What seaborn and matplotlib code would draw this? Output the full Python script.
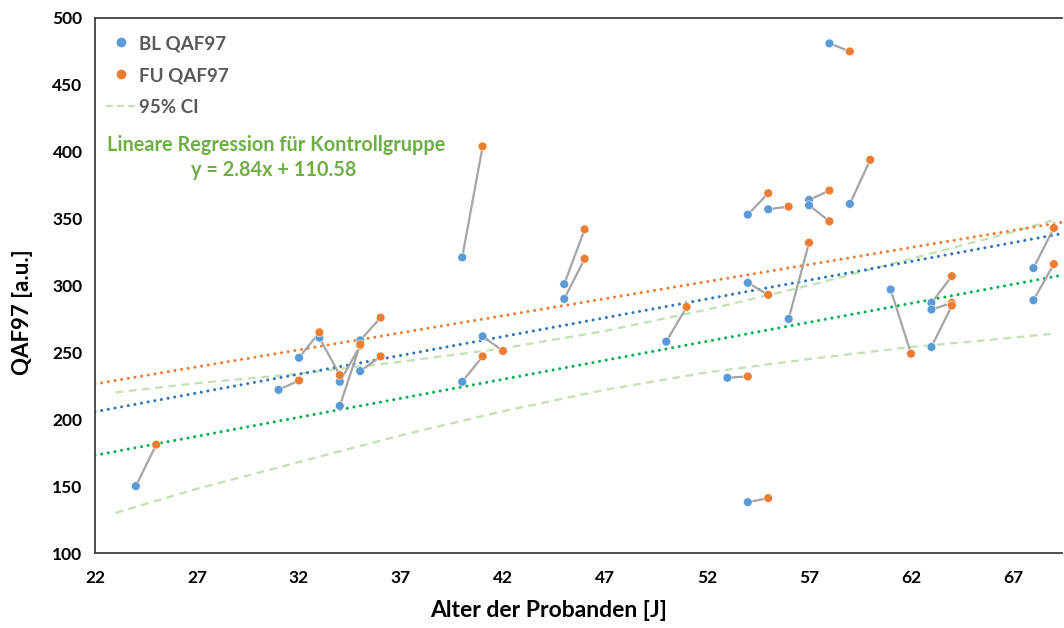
import numpy as np
import pandas as pd
import matplotlib
matplotlib.use('Agg')
import matplotlib.pyplot as plt
import seaborn as sns
from matplotlib.lines import Line2D
from matplotlib.font_manager import FontProperties

# Werte
bl_age = [24, 31, 32, 33, 34, 34, 35, 35, 40, 40, 41, 45, 45, 50, 53,
          54, 54, 54, 55, 56, 57, 57, 58, 59, 61, 63, 63, 63, 68, 68]
bl_val = [150, 222, 246, 261, 228, 210, 259, 236, 321, 228, 262, 301, 290, 258, 231,
          138, 353, 302, 357, 275, 364, 360, 481, 361, 297, 287, 282, 254, 313, 289]
fu_age = [25, 32, 33, 34, 35, 35, 36, 36, 41, 41, 42, 46, 46, 51, 54,
          55, 55, 55, 56, 57, 58, 58, 59, 60, 62, 64, 64, 64, 69, 69]
fu_val = [181, 229, 265, 233, 255, 256, 276, 247, 404, 247, 251, 342, 320, 284, 232,
          141, 369, 293, 359, 332, 371, 348, 475, 394, 249, 307, 287, 285, 343, 316]

# Trendlinien (Steigung, Achsenabschnitt)
trend_names = ['BL', 'FU', 'Kontrolle']
trend_slope = [2.81, 2.55, 2.84]
trend_icpt = [143.8, 170.3, 110.58]

# 95% Konfidenzband
ci_x = [23, 27, 32, 37, 42, 47, 52, 57, 62, 67, 69]
ci_upper = [220, 227, 234, 243, 253, 266, 282, 300, 320, 340, 349]
ci_lower = [130, 148, 168, 188, 206, 222, 235, 245, 254, 261, 264]

xticks = list(range(22, 68, 5))
yticks = list(range(100, 501, 50))

c_blue = '#5B9BD5'
c_orange = '#ED7D31'
c_trend = {'BL': '#2E75B6', 'FU': '#ED7D31', 'Kontrolle': '#00B050'}
c_ci = '#C5E0B4'
c_pair = '#A5A5A5'
c_text_gray = '#595959'
c_green_txt = '#70AD47'

sns.set_theme(style='white')
plt.rcParams['font.family'] = ['Lato', 'DejaVu Sans']
plt.rcParams['font.weight'] = 'bold'

fig = plt.figure(figsize=(10.64, 6.28), dpi=100)
ax = fig.add_axes([95 / 1064, (628 - 553) / 628, 967 / 1064, 535 / 628])
xmin, xmax = 22, 69.4

# Konfidenzband
ci_df = pd.DataFrame({'x': ci_x, 'upper': ci_upper, 'lower': ci_lower})
sns.lineplot(data=ci_df, x='x', y='upper', ax=ax, color=c_ci, lw=1.6,
             linestyle=(0, (3.5, 2.5)), zorder=1)
sns.lineplot(data=ci_df, x='x', y='lower', ax=ax, color=c_ci, lw=1.6,
             linestyle=(0, (3.5, 2.5)), zorder=1)

# Trendlinien
xs = np.array([xmin, xmax])
for name, m, b in zip(trend_names, trend_slope, trend_icpt):
    ax.plot(xs, m * xs + b, color=c_trend[name], lw=2.2,
            linestyle=(0, (0.01, 2.2)), dash_capstyle='round', zorder=2)

# Verbindungslinien BL -> FU
for a0, v0, a1, v1 in zip(bl_age, bl_val, fu_age, fu_val):
    ax.plot([a0, a1], [v0, v1], color=c_pair, lw=1.6, zorder=3)

df = pd.DataFrame({'age': bl_age + fu_age, 'val': bl_val + fu_val,
                   'grp': ['BL QAF97'] * len(bl_age) + ['FU QAF97'] * len(fu_age)})
sns.scatterplot(data=df, x='age', y='val', hue='grp',
                palette={'BL QAF97': c_blue, 'FU QAF97': c_orange},
                s=40, edgecolor='white', linewidth=0.4, ax=ax, zorder=4, legend=False)

ax.set_xlim(xmin, xmax)
ax.set_ylim(100, 500)
ax.set_xticks(xticks)
ax.set_yticks(yticks)
ax.tick_params(axis='both', length=0, labelsize=12.5, colors='black')
ax.tick_params(axis='x', pad=12)
ax.tick_params(axis='y', pad=9)
for lab in ax.get_xticklabels() + ax.get_yticklabels():
    lab.set_fontweight('bold')

for side in ['left', 'bottom', 'top']:
    ax.spines[side].set_color('#404040')
    ax.spines[side].set_linewidth(1.3)
ax.spines['right'].set_visible(False)

ax.set_xlabel('Alter der Probanden [J]', fontsize=16.5, fontweight='bold', color='black')
ax.set_ylabel('QAF97 [a.u.]', fontsize=16, fontweight='bold', color='black')
ax.xaxis.set_label_coords((549 - 95) / 967, -(600 - 553) / 535)
ax.yaxis.set_label_coords((33 - 95) / 967, (553 - 312) / 535)

handles = [
    Line2D([], [], marker='o', ls='none', color=c_blue, markersize=6),
    Line2D([], [], marker='o', ls='none', color=c_orange, markersize=6),
    Line2D([], [], color=c_ci, lw=1.6, linestyle=(0, (3, 2))),
]
leg_font = FontProperties(family=['Lato', 'DejaVu Sans'], weight='bold', size=13.5)
leg = ax.legend(handles, ['BL QAF97', 'FU QAF97', '95% CI'], loc='upper left',
                bbox_to_anchor=((106 - 95) / 967, 1 - (35 - 18) / 535),
                frameon=False, handlelength=1.6, handletextpad=0.15,
                labelspacing=0.8, borderpad=0, borderaxespad=0,
                prop=leg_font, labelcolor=c_text_gray)

ax.text((276 - 95) / 967, (553 - 145) / 535, 'Lineare Regression für Kontrollgruppe',
        transform=ax.transAxes, ha='center', va='center', fontsize=14.3,
        fontweight='bold', color=c_green_txt)
ax.text((274 - 95) / 967, (553 - 170) / 535, 'y = 2.84x + 110.58',
        transform=ax.transAxes, ha='center', va='center', fontsize=14.3,
        fontweight='bold', color=c_green_txt)

fig.savefig('out.png', dpi=100)
